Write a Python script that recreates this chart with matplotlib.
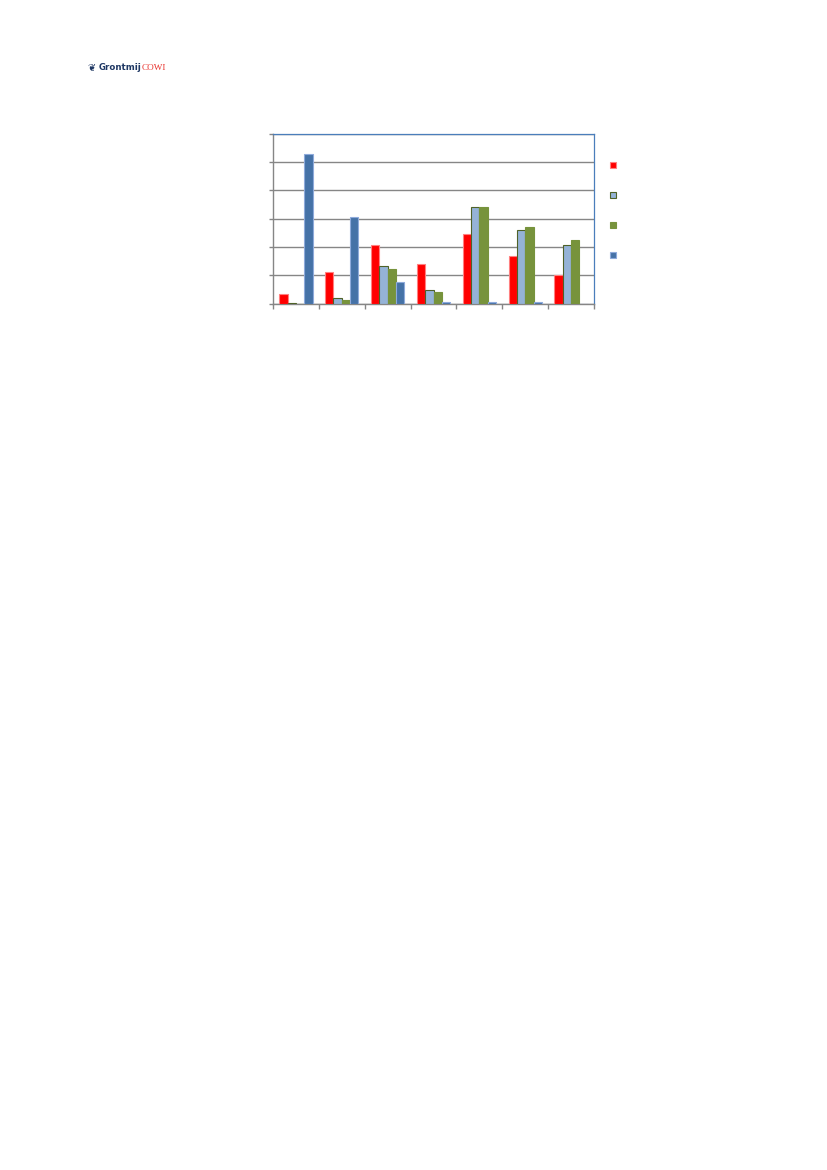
import matplotlib
matplotlib.use("Agg")
import matplotlib.pyplot as plt
import numpy as np

# Data (units of gridline steps)
categories = ["1", "2", "3", "4", "5", "6", "7"]
series_names = ["Serie 1", "Serie 2", "Serie 3", "Serie 4"]
red_vals = [0.32, 1.11, 2.05, 1.40, 2.47, 1.69, 0.99]
lightblue_vals = [0.03, 0.18, 1.31, 0.46, 3.39, 2.61, 2.05]
olive_vals = [0.0, 0.12, 1.21, 0.40, 3.39, 2.69, 2.24]
blue_vals = [5.28, 3.07, 0.75, 0.07, 0.07, 0.07, 0.0]

W, H = 827, 1170
fig = plt.figure(figsize=(W / 100, H / 100), dpi=100)
fig.patch.set_facecolor("white")

left, right, top, bottom = 273, 594, 133.5, 303.5
ax = fig.add_axes([left / W, 1 - bottom / H, (right - left) / W, (bottom - top) / H])

face = ["#FF0000", "#95B3D7", "#77933C", "#4572A7"]
edge = ["#FF8080", "#4F6228", "#77933C", "#8EAADB"]
all_vals = [red_vals, lightblue_vals, olive_vals, blue_vals]

n = len(categories)
x = np.arange(n) + 0.5
bw = 0.181
offsets = (np.arange(4) - 1.5) * bw
for k in range(4):
    ax.bar(x + offsets[k], all_vals[k], width=bw, color=face[k],
           edgecolor=edge[k], linewidth=0.8, zorder=3, label=series_names[k])

ax.set_xlim(0, n)
ax.set_ylim(0, 6)
ax.set_yticks(np.arange(0, 7, 1))
ax.set_xticks(np.arange(0, n + 1, 1))
ax.set_yticklabels([])
ax.set_xticklabels([])
ax.grid(axis="y", color="#868686", linewidth=1.0, zorder=0)
ax.tick_params(axis="y", direction="out", length=3, color="#868686", width=1)
ax.tick_params(axis="x", direction="out", length=3.5, color="#868686", width=1)
ax.spines["left"].set_color("#868686")
ax.spines["bottom"].set_color("#868686")
ax.spines["left"].set_linewidth(1.0)
ax.spines["bottom"].set_linewidth(1.0)
ax.spines["top"].set_color("#4A7EBB")
ax.spines["right"].set_color("#4A7EBB")
ax.spines["top"].set_linewidth(0.9)
ax.spines["right"].set_linewidth(0.9)

# Legend (markers only, no text)
leg_y = [165, 195, 225, 255]
for k in range(4):
    fig.patches.append(plt.Rectangle(((613 - 3) / W, 1 - (leg_y[k] + 3) / H), 6 / W, 6 / H,
                                     transform=fig.transFigure, facecolor=face[k],
                                     edgecolor=edge[k], linewidth=0.8))

# Logo
fig.text(99 / W, 1 - 67.5 / H, "Grontmij", fontsize=6.2, fontweight="bold",
         color="#1F3864", va="center", ha="left", family="DejaVu Sans")
fig.text(142 / W, 1 - 67.5 / H, "COWI", fontsize=6.6, color="#E8302A",
         va="center", ha="left", family="Liberation Serif")
fig.text(91 / W, 1 - 67.5 / H, "\u2766", fontsize=7, color="#1F3864",
         va="center", ha="center", family="DejaVu Sans")

fig.savefig("out.png", dpi=100, facecolor="white")
